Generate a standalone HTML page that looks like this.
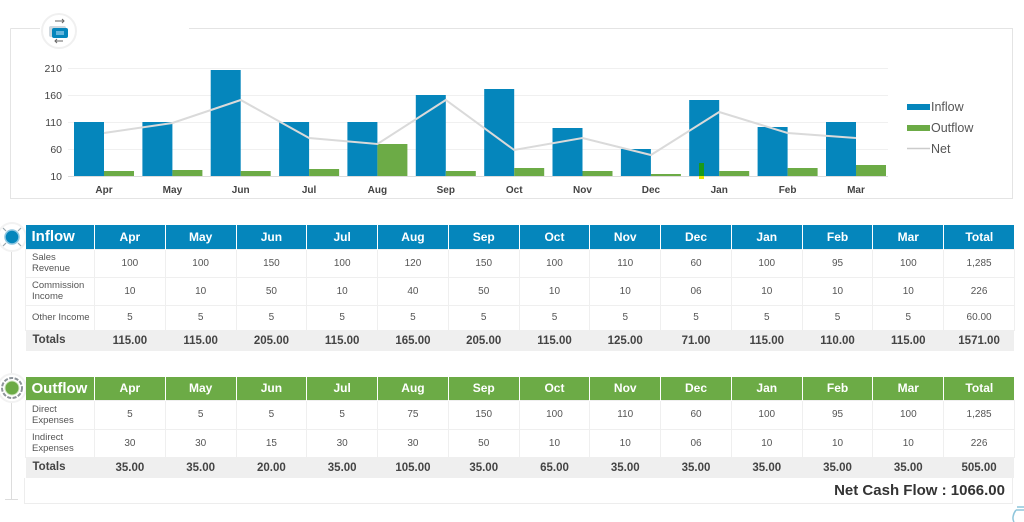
<!DOCTYPE html>
<html>
<head>
<meta charset="utf-8">
<style>
  html,body{margin:0;padding:0;background:#fff;}
  body{width:1024px;height:522px;position:relative;overflow:hidden;font-family:"Liberation Sans",Arial,sans-serif;}
  svg.bg{position:absolute;left:0;top:0;}
  table{position:absolute;left:25px;border-collapse:collapse;table-layout:fixed;width:988px;}
  td,th{padding:0;text-align:center;overflow:hidden;}
  th{color:#fff;font-weight:bold;font-size:12px;border-left:1px solid rgba(255,255,255,0.55);}
  th.title{text-align:left;padding-left:6px;font-size:15px;border-left:none;}
  td{font-size:10px;color:#555;border:1px solid #efefef;}
  td.lbl{text-align:left;padding-left:6px;font-size:9.5px;line-height:11px;color:#555;}
  tr.tot td{background:#efefef;font-weight:bold;font-size:11.5px;color:#444;border:none;}
  tr.tot td.lbl{font-size:11.5px;padding-left:7px;color:#444;}
  .blue th{background:#0586bc;}
  .green th{background:#6cab46;}
  .net{position:absolute;right:19px;top:482px;font-weight:bold;font-size:15px;color:#333;}
</style>
</head>
<body>
<svg class="bg" width="1024" height="522" viewBox="0 0 1024 522" xmlns="http://www.w3.org/2000/svg">
  <!-- chart frame -->
  <g stroke="#e4e4e4" stroke-width="1" fill="none">
    <path d="M10.5 28.5 H40 M189 28.5 H1012.5 V198.5 H10.5 V28.5"/>
  </g>
  <!-- top icon -->
  <circle cx="59" cy="31" r="17" fill="#fff" stroke="#f0f0f0" stroke-width="2"/>
  <rect x="49" y="26" width="17" height="11" rx="2" fill="#cfd8de"/>
  <rect x="52" y="28" width="16" height="10" rx="2" fill="#0586bc"/>
  <rect x="56" y="31" width="8" height="4" fill="#66b6dc"/>
  <path d="M55 21 H64 M62 19 L64 21 L62 23" stroke="#666" stroke-width="1" fill="none"/>
  <path d="M55 41 H63 M57 39 L55 41 L57 43" stroke="#666" stroke-width="1" fill="none"/>

  <!-- gridlines -->
  <g stroke="#f0f0f0" stroke-width="1">
    <line x1="68" y1="68.5" x2="888" y2="68.5"/>
    <line x1="68" y1="95.5" x2="888" y2="95.5"/>
    <line x1="68" y1="122.5" x2="888" y2="122.5"/>
    <line x1="68" y1="149.5" x2="888" y2="149.5"/>
  </g>
  <line x1="68" y1="176.5" x2="888" y2="176.5" stroke="#dcdcdc" stroke-width="1"/>
  <!-- y labels -->
  <g font-family="Liberation Sans, Arial, sans-serif" font-size="10.5" fill="#444" text-anchor="end">
    <text x="62" y="72">210</text>
    <text x="62" y="99">160</text>
    <text x="62" y="126">110</text>
    <text x="62" y="153">60</text>
    <text x="62" y="180">10</text>
  </g>
  <!-- bars -->
  <g fill="#0586bc">
    <rect x="74" y="122" width="30" height="54"/>
    <rect x="142.4" y="122" width="30" height="54"/>
    <rect x="210.7" y="70" width="30" height="106"/>
    <rect x="279.1" y="122" width="30" height="54"/>
    <rect x="347.4" y="122" width="30" height="54"/>
    <rect x="415.8" y="95" width="30" height="81"/>
    <rect x="484.2" y="89" width="30" height="87"/>
    <rect x="552.5" y="128" width="30" height="48"/>
    <rect x="620.9" y="149" width="30" height="27"/>
    <rect x="689.2" y="100" width="30" height="76"/>
    <rect x="757.6" y="127" width="30" height="49"/>
    <rect x="826" y="122" width="30" height="54"/>
  </g>
  <g fill="#6cab46">
    <rect x="104" y="171" width="30" height="5"/>
    <rect x="172.4" y="170" width="30" height="6"/>
    <rect x="240.7" y="171" width="30" height="5"/>
    <rect x="309.1" y="169" width="30" height="7"/>
    <rect x="377.4" y="144" width="30" height="32"/>
    <rect x="445.8" y="171" width="30" height="5"/>
    <rect x="514.2" y="168" width="30" height="8"/>
    <rect x="582.5" y="171" width="30" height="5"/>
    <rect x="650.9" y="174" width="30" height="2"/>
    <rect x="719.2" y="171" width="30" height="5"/>
    <rect x="787.6" y="168" width="30" height="8"/>
    <rect x="856" y="165" width="30" height="11"/>
  </g>
  <!-- artifact at Jan -->
  <rect x="699" y="163" width="5" height="13" fill="#1a9a1a"/>
  <rect x="699" y="176" width="5" height="3" fill="#e6e600"/>
  <!-- net line -->
  <polyline fill="none" stroke="#dadada" stroke-width="2"
    points="104,133 172.4,123 240.7,100 309.1,138 377.4,144 445.8,100 514.2,150 582.5,138 650.9,155 719.2,112 787.6,133 856,138"/>
  <!-- x labels -->
  <g font-family="Liberation Sans, Arial, sans-serif" font-size="10" font-weight="bold" fill="#444" text-anchor="middle">
    <text x="104" y="193">Apr</text>
    <text x="172.4" y="193">May</text>
    <text x="240.7" y="193">Jun</text>
    <text x="309.1" y="193">Jul</text>
    <text x="377.4" y="193">Aug</text>
    <text x="445.8" y="193">Sep</text>
    <text x="514.2" y="193">Oct</text>
    <text x="582.5" y="193">Nov</text>
    <text x="650.9" y="193">Dec</text>
    <text x="719.2" y="193">Jan</text>
    <text x="787.6" y="193">Feb</text>
    <text x="856" y="193">Mar</text>
  </g>
  <!-- legend -->
  <rect x="907" y="104" width="23" height="6" fill="#0586bc"/>
  <rect x="907" y="125" width="23" height="6" fill="#6cab46"/>
  <line x1="907" y1="148.5" x2="930" y2="148.5" stroke="#cccccc" stroke-width="1.5"/>
  <g font-family="Liberation Sans, Arial, sans-serif" font-size="12.5" fill="#555">
    <text x="931" y="111">Inflow</text>
    <text x="931" y="132">Outflow</text>
    <text x="931" y="153">Net</text>
  </g>

  <!-- left timeline -->
  <line x1="11.5" y1="249" x2="11.5" y2="499" stroke="#dddddd" stroke-width="1"/>
  <line x1="5" y1="499.5" x2="18" y2="499.5" stroke="#dddddd" stroke-width="1"/>
  <!-- empty box under outflow table -->
  <path d="M24.5 478 V503.5 H1012.5 V478" stroke="#ededed" stroke-width="1" fill="none"/>

  <!-- inflow icon -->
  <circle cx="12" cy="237" r="14" fill="#fff" stroke="#f2f2f2" stroke-width="2"/>
  <circle cx="12" cy="237" r="7" fill="#0586bc" stroke="#8ec6e0" stroke-width="1.5"/>
  <g stroke="#9aa7ad" stroke-width="1.2">
    <line x1="3" y1="228" x2="6" y2="231"/>
    <line x1="21" y1="228" x2="18" y2="231"/>
    <line x1="3" y1="246" x2="6" y2="243"/>
    <line x1="21" y1="246" x2="18" y2="243"/>
  </g>
  <!-- outflow icon -->
  <circle cx="12" cy="388" r="14" fill="#fff" stroke="#f2f2f2" stroke-width="2"/>
  <circle cx="12" cy="388" r="10" fill="none" stroke="#8d9499" stroke-width="2" stroke-dasharray="4 1.5"/>
  <circle cx="12" cy="388" r="7" fill="#6cab46" stroke="#cfe6c0" stroke-width="1"/>

  <!-- bottom right bag icon -->
  <path d="M1017 507 h7 M1016 510 h8 M1016 510 c-3 4 -4 9 -2 12" stroke="#8fc6dc" stroke-width="1.5" fill="none"/>
</svg>

<table class="blue" style="top:225px;">
  <colgroup><col style="width:69px"><col span="13" style="width:70.77px"></colgroup>
  <tr style="height:24px"><th class="title">Inflow</th><th>Apr</th><th>May</th><th>Jun</th><th>Jul</th><th>Aug</th><th>Sep</th><th>Oct</th><th>Nov</th><th>Dec</th><th>Jan</th><th>Feb</th><th>Mar</th><th>Total</th></tr>
  <tr style="height:28px"><td class="lbl">Sales<br>Revenue</td><td>100</td><td>100</td><td>150</td><td>100</td><td>120</td><td>150</td><td>100</td><td>110</td><td>60</td><td>100</td><td>95</td><td>100</td><td>1,285</td></tr>
  <tr style="height:28px"><td class="lbl">Commission<br>Income</td><td>10</td><td>10</td><td>50</td><td>10</td><td>40</td><td>50</td><td>10</td><td>10</td><td>06</td><td>10</td><td>10</td><td>10</td><td>226</td></tr>
  <tr style="height:25px"><td class="lbl">Other Income</td><td>5</td><td>5</td><td>5</td><td>5</td><td>5</td><td>5</td><td>5</td><td>5</td><td>5</td><td>5</td><td>5</td><td>5</td><td>60.00</td></tr>
  <tr class="tot" style="height:21px"><td class="lbl">Totals</td><td>115.00</td><td>115.00</td><td>205.00</td><td>115.00</td><td>165.00</td><td>205.00</td><td>115.00</td><td>125.00</td><td>71.00</td><td>115.00</td><td>110.00</td><td>115.00</td><td>1571.00</td></tr>
</table>

<table class="green" style="top:377px;">
  <colgroup><col style="width:69px"><col span="13" style="width:70.77px"></colgroup>
  <tr style="height:23px"><th class="title">Outflow</th><th>Apr</th><th>May</th><th>Jun</th><th>Jul</th><th>Aug</th><th>Sep</th><th>Oct</th><th>Nov</th><th>Dec</th><th>Jan</th><th>Feb</th><th>Mar</th><th>Total</th></tr>
  <tr style="height:29px"><td class="lbl">Direct<br>Expenses</td><td>5</td><td>5</td><td>5</td><td>5</td><td>75</td><td>150</td><td>100</td><td>110</td><td>60</td><td>100</td><td>95</td><td>100</td><td>1,285</td></tr>
  <tr style="height:28px"><td class="lbl">Indirect<br>Expenses</td><td>30</td><td>30</td><td>15</td><td>30</td><td>30</td><td>50</td><td>10</td><td>10</td><td>06</td><td>10</td><td>10</td><td>10</td><td>226</td></tr>
  <tr class="tot" style="height:21px"><td class="lbl">Totals</td><td>35.00</td><td>35.00</td><td>20.00</td><td>35.00</td><td>105.00</td><td>35.00</td><td>65.00</td><td>35.00</td><td>35.00</td><td>35.00</td><td>35.00</td><td>35.00</td><td>505.00</td></tr>
</table>

<div class="net">Net Cash Flow : 1066.00</div>
</body>
</html>
